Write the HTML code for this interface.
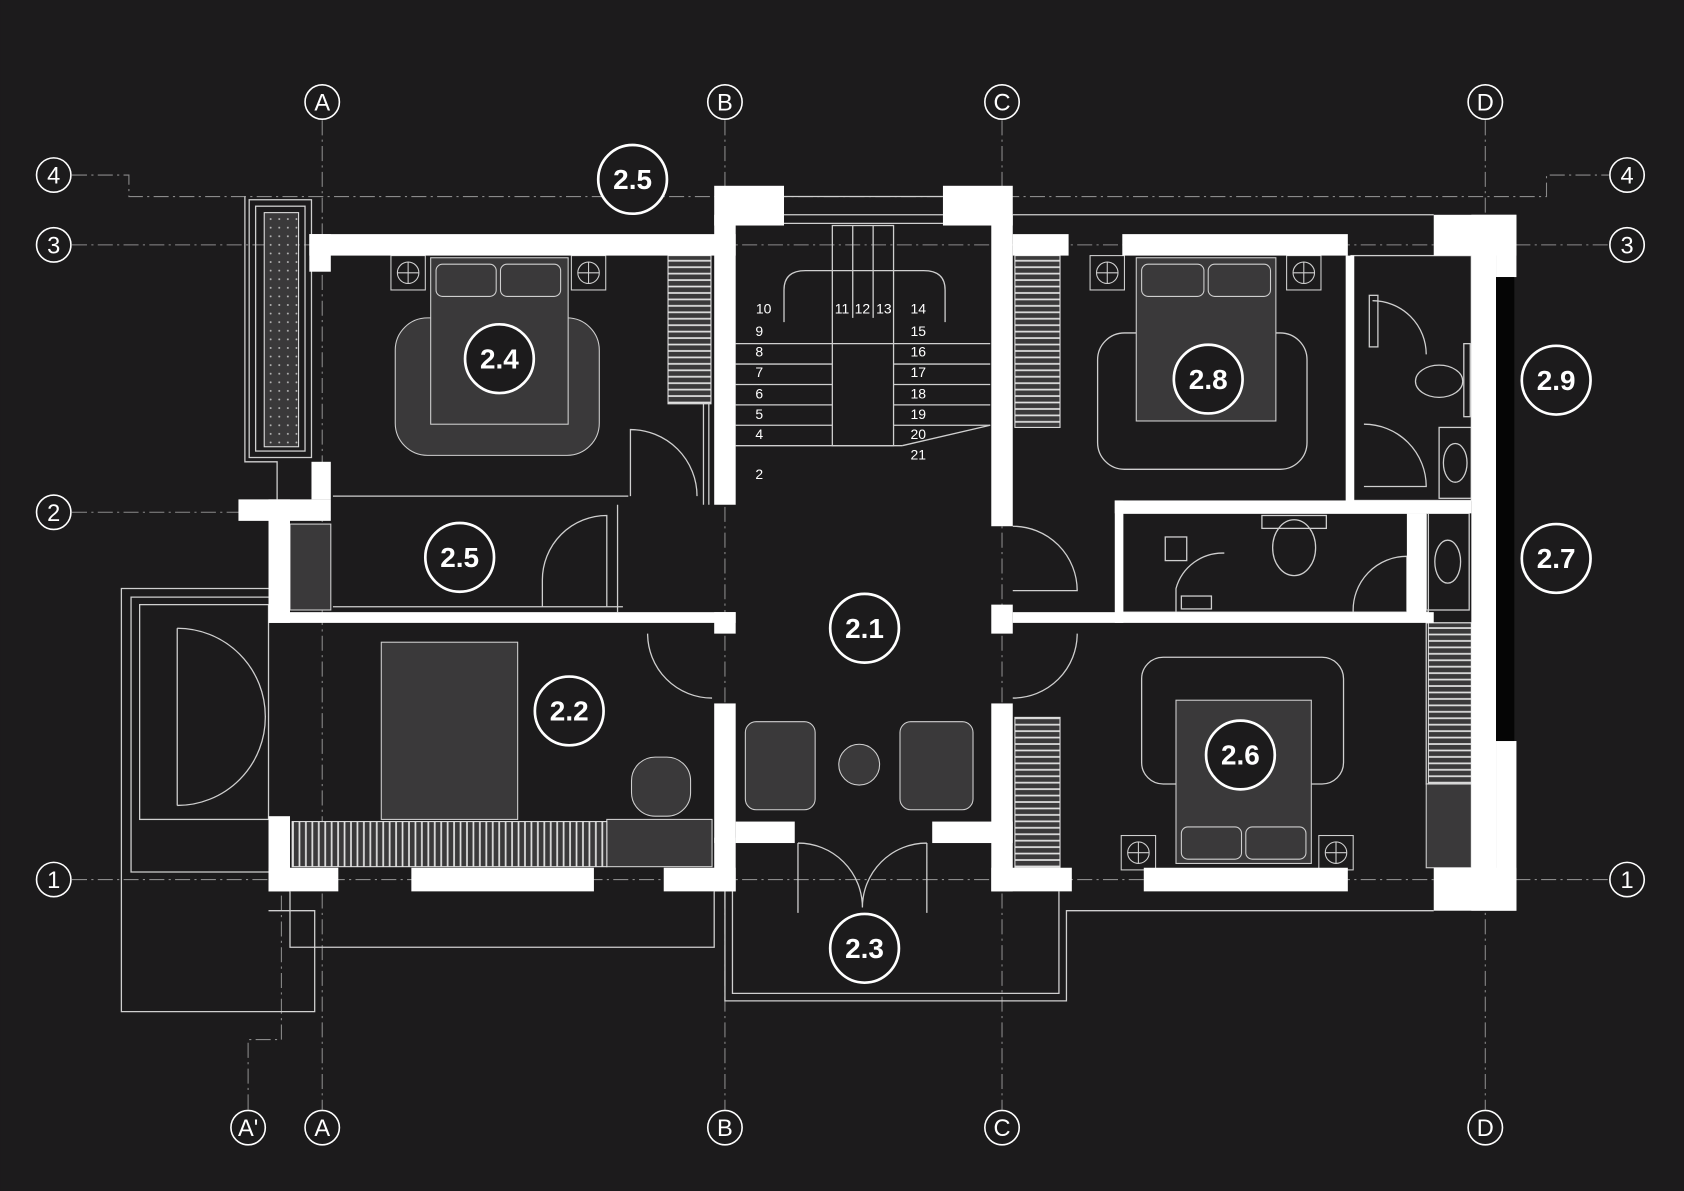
<!DOCTYPE html>
<html><head><meta charset="utf-8"><style>
html,body{margin:0;padding:0;background:#1c1b1c;}
svg{display:block}
text{font-family:"Liberation Sans",sans-serif;fill:#fff}
</style></head><body>
<svg width="1684" height="1191" viewBox="0 0 1568 1109" xmlns="http://www.w3.org/2000/svg">
<rect width="1568" height="1109" fill="#1c1b1c"/>
<!-- grid lines -->
<g stroke="#8a8a8a" stroke-width="1" stroke-dasharray="14 4 2 4" fill="none">
<line x1="300" y1="112" x2="300" y2="1033"/>
<line x1="675" y1="112" x2="675" y2="1033"/>
<line x1="933" y1="112" x2="933" y2="1033"/>
<line x1="1383" y1="112" x2="1383" y2="1033"/>
<line x1="67" y1="228" x2="1498" y2="228"/>
<line x1="67" y1="477" x2="240" y2="477"/>
<line x1="67" y1="819" x2="1498" y2="819"/>
<polyline points="67,163 120,163 120,183 1440,183 1440,163 1498,163"/>
<polyline points="231,1033 231,968 262,968 262,830"/>
</g>
<!-- grid bubbles -->
<g stroke="#fff" stroke-width="1.5" fill="#1c1b1c">
<circle cx="300" cy="95" r="16"/><circle cx="675" cy="95" r="16"/><circle cx="933" cy="95" r="16"/><circle cx="1383" cy="95" r="16"/>
<circle cx="231" cy="1050" r="16"/><circle cx="300" cy="1050" r="16"/><circle cx="675" cy="1050" r="16"/><circle cx="933" cy="1050" r="16"/><circle cx="1383" cy="1050" r="16"/>
<circle cx="50" cy="163" r="16"/><circle cx="50" cy="228" r="16"/><circle cx="50" cy="477" r="16"/><circle cx="50" cy="819" r="16"/>
<circle cx="1515" cy="163" r="16"/><circle cx="1515" cy="228" r="16"/><circle cx="1515" cy="819" r="16"/>
</g>
<g font-size="22" text-anchor="middle">
<text x="300" y="103">A</text><text x="675" y="103">B</text><text x="933" y="103">C</text><text x="1383" y="103">D</text>
<text x="231" y="1058">A'</text><text x="300" y="1058">A</text><text x="675" y="1058">B</text><text x="933" y="1058">C</text><text x="1383" y="1058">D</text>
<text x="50" y="171">4</text><text x="50" y="236">3</text><text x="50" y="485">2</text><text x="50" y="827">1</text>
<text x="1515" y="171">4</text><text x="1515" y="236">3</text><text x="1515" y="827">1</text>
</g>
<!-- thin outlines -->
<g stroke="#cfcfcf" stroke-width="1.2" fill="none">
<polyline points="228,183 228,430 258,430 258,465"/>
<rect x="232" y="186" width="58" height="240"/>
<rect x="238" y="192" width="46" height="228"/>
<polyline points="250,548 113,548 113,942 293,942 293,848 250,848"/>
<polyline points="250,556 122,556 122,812 250,812"/>
<rect x="130" y="563" width="120" height="200"/>
<polyline points="270,830 270,882 665,882 665,830"/>
<polyline points="675,830 675,932 993,932 993,848 1335,848"/>
<polyline points="682,830 682,925 986,925 986,830"/>
<line x1="730" y1="183" x2="878" y2="183"/><line x1="730" y1="200" x2="878" y2="200"/><line x1="730" y1="208" x2="878" y2="208"/>
<line x1="943" y1="200" x2="1335" y2="200"/>
<line x1="310" y1="462" x2="585" y2="462"/>
<line x1="575" y1="470" x2="575" y2="570"/>
<line x1="310" y1="565" x2="580" y2="565"/>
<!-- stairs -->
<line x1="685" y1="320" x2="922" y2="320"/><line x1="685" y1="339" x2="775" y2="339"/><line x1="832" y1="339" x2="922" y2="339"/>
<line x1="685" y1="358" x2="775" y2="358"/><line x1="832" y1="358" x2="922" y2="358"/>
<line x1="685" y1="377" x2="775" y2="377"/><line x1="832" y1="377" x2="922" y2="377"/>
<line x1="685" y1="396" x2="775" y2="396"/><line x1="832" y1="396" x2="922" y2="396"/>
<line x1="685" y1="415" x2="840" y2="415"/>
<rect x="775" y="210" width="57" height="205"/>
<line x1="794" y1="210" x2="794" y2="296"/><line x1="813" y1="210" x2="813" y2="296"/>
<path d="M730,300 L730,270 Q730,252 750,252 L860,252 Q880,252 880,270 L880,300"/>
<line x1="840" y1="415" x2="922" y2="396"/>
<line x1="655" y1="300" x2="655" y2="470"/><line x1="660" y1="300" x2="660" y2="470"/>
<!-- doors -->
<path d="M587,462 L587,400 A62,62 0 0 1 649,462"/>
<path d="M505,565 L505,540 A60,60 0 0 1 565,480 L565,565"/>
<path d="M603,590 A60,60 0 0 0 663,650"/>
<path d="M1003,590 A60,60 0 0 1 943,650"/>
<path d="M943,490 A60,60 0 0 1 1003,550 L943,550"/>
<path d="M165,585 A82,82 0 0 1 247,667 M165,750 A82,82 0 0 0 247,667"/>
<line x1="165" y1="585" x2="165" y2="750"/>
<path d="M743,785 L743,850 M743,785 A60,60 0 0 1 803,845 M863,785 L863,850 M863,785 A60,60 0 0 0 803,845"/>
<path d="M1270,395 A58,58 0 0 1 1328,453 L1270,453"/>
<path d="M1278,280 A50,50 0 0 1 1328,330"/>
<path d="M1095,570 L1095,548 A45,45 0 0 1 1140,515"/>
<path d="M1260,570 A50,50 0 0 1 1310,518 L1310,570"/>
<rect x="1045" y="478" width="285" height="92"/>
<rect x="1258" y="238" width="112" height="228"/>
<rect x="1340" y="398" width="30" height="66"/><ellipse cx="1355" cy="431" rx="11" ry="18"/>
<rect x="1328" y="478" width="40" height="90"/><ellipse cx="1348" cy="523" rx="12" ry="20"/>
<rect x="1175" y="480" width="60" height="12"/><ellipse cx="1205" cy="510" rx="20" ry="26"/>
<rect x="1363" y="320" width="6" height="68"/><ellipse cx="1340" cy="355" rx="22" ry="15"/>
<rect x="1275" y="275" width="8" height="48"/>
<rect x="1085" y="500" width="20" height="22"/><rect x="1100" y="555" width="28" height="12"/>
<rect x="1328" y="580" width="42" height="150"/>
<rect x="1063" y="612" width="188" height="118" rx="20"/>
<rect x="1022" y="310" width="195" height="127" rx="25"/>
</g>
<!-- furniture fills -->
<g fill="#3a393a" stroke="#cfcfcf" stroke-width="1">
<rect x="368" y="296" width="190" height="128" rx="30"/>
<rect x="401" y="240" width="128" height="155"/>
<rect x="406" y="246" width="56" height="30" rx="6"/><rect x="466" y="246" width="56" height="30" rx="6"/>
<rect x="1058" y="240" width="130" height="152"/>
<rect x="1063" y="246" width="58" height="30" rx="6"/><rect x="1125" y="246" width="58" height="30" rx="6"/>
<rect x="1095" y="652" width="126" height="152"/>
<rect x="1100" y="770" width="56" height="30" rx="6"/><rect x="1160" y="770" width="56" height="30" rx="6"/>
<rect x="355" y="598" width="127" height="165"/>
<rect x="565" y="763" width="98" height="44"/>
<rect x="588" y="705" width="55" height="55" rx="22"/>
<rect x="694" y="672" width="65" height="82" rx="10"/>
<rect x="838" y="672" width="68" height="82" rx="10"/>
<circle cx="800" cy="712" r="19"/>
<rect x="270" y="488" width="38" height="80"/>
<rect x="1328" y="730" width="42" height="78"/>
</g>
<!-- lamps -->
<g fill="none" stroke="#cfcfcf" stroke-width="1">
<rect x="364" y="238" width="32" height="32"/><circle cx="380" cy="254" r="10"/><path d="M370,254h20M380,244v20"/>
<rect x="532" y="238" width="32" height="32"/><circle cx="548" cy="254" r="10"/><path d="M538,254h20M548,244v20"/>
<rect x="1015" y="238" width="32" height="32"/><circle cx="1031" cy="254" r="10"/><path d="M1021,254h20M1031,244v20"/>
<rect x="1198" y="238" width="32" height="32"/><circle cx="1214" cy="254" r="10"/><path d="M1204,254h20M1214,244v20"/>
<rect x="1044" y="778" width="32" height="32"/><circle cx="1060" cy="794" r="10"/><path d="M1050,794h20M1060,784v20"/>
<rect x="1228" y="778" width="32" height="32"/><circle cx="1244" cy="794" r="10"/><path d="M1234,794h20M1244,784v20"/>
</g>
<!-- wardrobes -->
<defs>
<pattern id="hs" width="4" height="6" patternUnits="userSpaceOnUse"><rect width="4" height="6" fill="#3a393a"/><rect y="2" width="4" height="1.6" fill="#e0e0e0"/></pattern>
<pattern id="vs" width="6" height="4" patternUnits="userSpaceOnUse"><rect width="6" height="4" fill="#3a393a"/><rect x="2" width="1.6" height="4" fill="#e0e0e0"/></pattern>
<pattern id="dots" width="8" height="8" patternUnits="userSpaceOnUse"><rect width="8" height="8" fill="#3a393a"/><circle cx="4" cy="4" r="0.9" fill="#bbb"/></pattern>
</defs>
<g stroke="#e0e0e0" stroke-width="1">
<rect x="622" y="238" width="40" height="138" fill="url(#hs)"/>
<rect x="945" y="238" width="42" height="160" fill="url(#hs)"/>
<rect x="945" y="668" width="42" height="140" fill="url(#hs)"/>
<rect x="1330" y="580" width="40" height="150" fill="url(#hs)"/>
<rect x="272" y="765" width="293" height="42" fill="url(#vs)"/>
<rect x="246" y="198" width="32" height="218" fill="url(#dots)"/>
</g>
<!-- walls -->
<g fill="#fff">
<rect x="288" y="218" width="397" height="20"/>
<rect x="288" y="218" width="20" height="35"/>
<rect x="665" y="173" width="65" height="37"/>
<rect x="685" y="173" width="0" height="0"/>
<rect x="665" y="200" width="20" height="270"/>
<rect x="878" y="173" width="65" height="37"/>
<rect x="923" y="200" width="20" height="290"/>
<rect x="943" y="218" width="52" height="20"/>
<rect x="1045" y="218" width="210" height="20"/>
<rect x="1335" y="200" width="77" height="38"/>
<rect x="1370" y="200" width="23" height="648"/>
<rect x="1393" y="200" width="19" height="58"/>
<rect x="1393" y="690" width="19" height="158"/>
<rect x="1335" y="808" width="77" height="40"/>
<rect x="290" y="430" width="18" height="35"/>
<rect x="222" y="465" width="86" height="20"/>
<rect x="250" y="465" width="20" height="115"/>
<rect x="250" y="570" width="435" height="10"/>
<rect x="665" y="570" width="20" height="20"/>
<rect x="943" y="570" width="392" height="10"/>
<rect x="923" y="563" width="20" height="27"/>
<rect x="1038" y="466" width="8" height="114"/>
<rect x="1038" y="466" width="332" height="12"/>
<rect x="1253" y="238" width="8" height="235"/>
<rect x="1310" y="478" width="18" height="100"/>
<rect x="665" y="655" width="20" height="130"/>
<rect x="685" y="765" width="55" height="20"/>
<rect x="868" y="765" width="75" height="20"/>
<rect x="923" y="655" width="20" height="175"/>
<rect x="923" y="808" width="75" height="22"/>
<rect x="1065" y="808" width="190" height="22"/>
<rect x="250" y="760" width="20" height="70"/>
<rect x="250" y="808" width="65" height="22"/>
<rect x="383" y="808" width="170" height="22"/>
<rect x="618" y="808" width="67" height="22"/>
<rect x="665" y="780" width="20" height="50"/>
</g>
<rect x="1393" y="258" width="17" height="432" fill="#050505"/>
<!-- room labels -->
<g stroke="#fff" stroke-width="2.5" fill="#1c1b1c">
<circle cx="589" cy="167" r="32"/><circle cx="465" cy="334" r="32"/><circle cx="428" cy="519" r="32"/>
<circle cx="530" cy="662" r="32"/><circle cx="805" cy="585" r="32"/><circle cx="805" cy="883" r="32"/>
<circle cx="1125" cy="353" r="32"/><circle cx="1155" cy="703" r="32"/><circle cx="1449" cy="354" r="32"/><circle cx="1449" cy="520" r="32"/>
</g>
<g font-size="26" font-weight="bold" text-anchor="middle">
<text x="589" y="176">2.5</text><text x="465" y="343">2.4</text><text x="428" y="528">2.5</text>
<text x="530" y="671">2.2</text><text x="805" y="594">2.1</text><text x="805" y="892">2.3</text>
<text x="1125" y="362">2.8</text><text x="1155" y="712">2.6</text><text x="1449" y="363">2.9</text><text x="1449" y="529">2.7</text>
</g>
<g font-size="13" fill="#fff" text-anchor="middle">
<text x="711" y="292">10</text><text x="784" y="292">11</text><text x="803" y="292">12</text><text x="823" y="292">13</text><text x="855" y="292">14</text>
<text x="707" y="313">9</text><text x="707" y="332">8</text><text x="707" y="351">7</text><text x="707" y="371">6</text><text x="707" y="390">5</text><text x="707" y="409">4</text><text x="707" y="446">2</text>
<text x="855" y="313">15</text><text x="855" y="332">16</text><text x="855" y="351">17</text><text x="855" y="371">18</text><text x="855" y="390">19</text><text x="855" y="409">20</text><text x="855" y="428">21</text>
</g>
</svg>
</body></html>
